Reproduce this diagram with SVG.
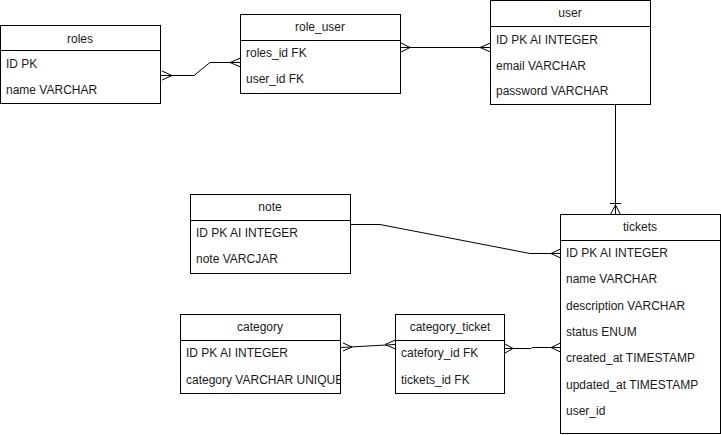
<svg xmlns="http://www.w3.org/2000/svg" width="721" height="435" viewBox="0 0 721 435">
  <style>
    .box { fill: #ffffff; stroke: #000000; stroke-width: 1; }
    .sep { stroke: #000000; stroke-width: 1; }
    .edge { fill: none; stroke: #000000; stroke-width: 1; }
    text { font-family: "Liberation Sans", Arial, Helvetica, sans-serif; font-size: 12px; fill: #1a1a1a; dominant-baseline: central; }
    .title { text-anchor: middle; }
  </style>
  <defs>
    <clipPath id="clip-category"><rect x="181" y="341" width="159" height="52"/></clipPath>
  </defs>

  <g id="connectors">
    <!-- roles -> role_user -->
    <polyline class="edge" points="160.5,75.5 194,75.5 210,62.5 240.5,62.5"/>
    <polyline class="edge" points="162,71 172,75.5 162,80"/>
    <polyline class="edge" points="240.5,58 230,62.5 240.5,67"/>
    <!-- role_user -> user -->
    <line class="edge" x1="400.5" y1="47.5" x2="490.5" y2="47.5"/>
    <polyline class="edge" points="401,43 410,47.5 401,52"/>
    <polyline class="edge" points="490.5,43 480,47.5 490.5,52"/>
    <!-- user -> tickets -->
    <line class="edge" x1="615.5" y1="104.5" x2="615.5" y2="214.5"/>
    <line class="edge" x1="610" y1="203.5" x2="621" y2="203.5"/>
    <polyline class="edge" points="610.5,214.5 615.5,205 620.5,214.5"/>
    <!-- note -> tickets -->
    <polyline class="edge" points="350.5,224.5 380,224.5 530,253.5 560.5,253.5"/>
    <polyline class="edge" points="560.5,249 551,253.5 560.5,258"/>
    <!-- category -> category_ticket -->
    <line class="edge" x1="340.5" y1="347.5" x2="395.5" y2="344.5"/>
    <polyline class="edge" points="343,343 352,347 343,351"/>
    <polyline class="edge" points="395.5,340 385,344.5 395.5,349"/>
    <!-- category_ticket -> tickets -->
    <polyline class="edge" points="504.5,348.5 531,348.5 532,347.5 560.5,347.5"/>
    <polyline class="edge" points="505,344 513,348.5 505,353"/>
    <polyline class="edge" points="560.5,343 551,347.5 560.5,352"/>
  </g>

  <g id="roles">
    <rect class="box" x="0.5" y="25.5" width="160" height="78"/>
    <line class="sep" x1="0.5" y1="50.5" x2="160.5" y2="50.5"/>
    <text class="title" x="80" y="39">roles</text>
    <text x="6" y="64">ID PK</text>
    <text x="6" y="90">name VARCHAR</text>
  </g>

  <g id="role_user">
    <rect class="box" x="240.5" y="14.5" width="160" height="79"/>
    <line class="sep" x1="240.5" y1="40.5" x2="400.5" y2="40.5"/>
    <text class="title" x="320" y="27">role_user</text>
    <text x="246" y="53">roles_id FK</text>
    <text x="246" y="79">user_id FK</text>
  </g>

  <g id="user">
    <rect class="box" x="490.5" y="0.5" width="160" height="104"/>
    <line class="sep" x1="490.5" y1="26.5" x2="650.5" y2="26.5"/>
    <text class="title" x="570" y="13">user</text>
    <text x="496" y="40">ID PK AI INTEGER</text>
    <text x="496" y="66">email VARCHAR</text>
    <text x="496" y="91">password VARCHAR</text>
  </g>

  <g id="note">
    <rect class="box" x="190.5" y="194.5" width="160" height="79"/>
    <line class="sep" x1="190.5" y1="220.5" x2="350.5" y2="220.5"/>
    <text class="title" x="270" y="207">note</text>
    <text x="196" y="233">ID PK AI INTEGER</text>
    <text x="196" y="259">note VARCJAR</text>
  </g>

  <g id="tickets">
    <rect class="box" x="560.5" y="214.5" width="160" height="219"/>
    <line class="sep" x1="560.5" y1="240.5" x2="720.5" y2="240.5"/>
    <text class="title" x="640" y="227">tickets</text>
    <text x="566" y="253">ID PK AI INTEGER</text>
    <text x="566" y="279">name VARCHAR</text>
    <text x="566" y="306">description VARCHAR</text>
    <text x="566" y="332">status ENUM</text>
    <text x="566" y="358">created_at TIMESTAMP</text>
    <text x="566" y="385">updated_at TIMESTAMP</text>
    <text x="566" y="411">user_id</text>
  </g>

  <g id="category">
    <rect class="box" x="180.5" y="314.5" width="160" height="79"/>
    <line class="sep" x1="180.5" y1="340.5" x2="340.5" y2="340.5"/>
    <text class="title" x="260" y="327">category</text>
    <text x="186" y="353">ID PK AI INTEGER</text>
    <text x="186" y="380" clip-path="url(#clip-category)">category VARCHAR UNIQUE</text>
  </g>

  <g id="category_ticket">
    <rect class="box" x="395.5" y="314.5" width="109" height="79"/>
    <line class="sep" x1="395.5" y1="340.5" x2="504.5" y2="340.5"/>
    <text class="title" x="450" y="327">category_ticket</text>
    <text x="401" y="353">catefory_id FK</text>
    <text x="401" y="380">tickets_id FK</text>
  </g>
</svg>
